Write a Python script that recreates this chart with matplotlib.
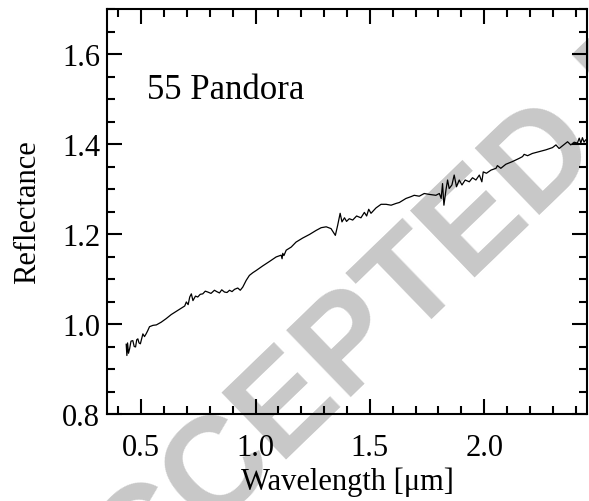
import matplotlib
matplotlib.use("Agg")
import matplotlib.pyplot as plt
from matplotlib.ticker import MultipleLocator

plt.rcParams['font.family'] = ['Liberation Serif', 'DejaVu Serif']

# Spectrum of 55 Pandora
wavelength = [0.434, 0.437, 0.440, 0.444, 0.449, 0.455, 0.463, 0.469, 0.475, 0.480, 0.485,
              0.490, 0.496, 0.507, 0.514, 0.521, 0.528, 0.536, 0.551, 0.566, 0.587,
              0.609, 0.631, 0.653, 0.675, 0.690, 0.697, 0.705, 0.712, 0.719, 0.726,
              0.737, 0.747, 0.758, 0.769, 0.780, 0.791, 0.805, 0.820, 0.830, 0.842,
              0.852, 0.864, 0.875, 0.886, 0.897, 0.908, 0.922, 0.933, 0.944, 0.959,
              0.973, 0.988, 1.003, 1.031, 1.061, 1.090, 1.112, 1.116, 1.119, 1.124,
              1.134, 1.156, 1.177, 1.206, 1.236, 1.265, 1.287, 1.309, 1.330, 1.349,
              1.359, 1.370, 1.378, 1.389, 1.398, 1.410, 1.425, 1.442, 1.461, 1.476,
              1.486, 1.495, 1.505, 1.527, 1.549, 1.571, 1.593, 1.615, 1.629, 1.658,
              1.680, 1.694, 1.716, 1.738, 1.760, 1.789, 1.804, 1.812, 1.818, 1.824,
              1.833, 1.840, 1.847, 1.859, 1.869, 1.879, 1.891, 1.903, 1.917, 1.935,
              1.949, 1.964, 1.979, 1.990, 1.996, 2.010, 2.030, 2.052, 2.058, 2.073,
              2.095, 2.124, 2.153, 2.168, 2.175, 2.190, 2.211, 2.241, 2.270, 2.299,
              2.314, 2.328, 2.350, 2.365, 2.379, 2.394, 2.408, 2.416, 2.423, 2.430,
              2.437, 2.444]
reflectance = [0.955, 0.930, 0.958, 0.935, 0.945, 0.962, 0.963, 0.950, 0.949, 0.965, 0.967,
               0.958, 0.956, 0.978, 0.972, 0.978, 0.985, 0.994, 0.997, 0.998, 1.004,
               1.012, 1.021, 1.028, 1.035, 1.040, 1.049, 1.043, 1.060, 1.067, 1.052,
               1.062, 1.060, 1.066, 1.067, 1.073, 1.071, 1.068, 1.075, 1.072, 1.069,
               1.076, 1.071, 1.070, 1.075, 1.072, 1.077, 1.080, 1.075, 1.082, 1.097,
               1.108, 1.114, 1.119, 1.129, 1.139, 1.149, 1.153, 1.145, 1.157, 1.152,
               1.164, 1.171, 1.182, 1.191, 1.199, 1.208, 1.214, 1.216, 1.212, 1.197,
               1.219, 1.246, 1.227, 1.236, 1.228, 1.234, 1.231, 1.240, 1.236, 1.248,
               1.240, 1.255, 1.246, 1.258, 1.266, 1.266, 1.264, 1.268, 1.270, 1.279,
               1.283, 1.286, 1.284, 1.290, 1.288, 1.286, 1.290, 1.279, 1.312, 1.264,
               1.298, 1.320, 1.301, 1.309, 1.331, 1.305, 1.320, 1.309, 1.320, 1.316,
               1.325, 1.320, 1.331, 1.316, 1.338, 1.335, 1.342, 1.346, 1.352, 1.346,
               1.355, 1.361, 1.368, 1.372, 1.377, 1.374, 1.379, 1.383, 1.387, 1.392,
               1.398, 1.390, 1.399, 1.405, 1.398, 1.404, 1.402, 1.413, 1.402, 1.414,
               1.404, 1.409]

x_ticks = [0.5, 1.0, 1.5, 2.0]
x_tick_labels = ["0.5", "1.0", "1.5", "2.0"]
y_ticks = [0.8, 1.0, 1.2, 1.4, 1.6]
y_tick_labels = ["0.8", "1.0", "1.2", "1.4", "1.6"]

fig = plt.figure(figsize=(5.89, 5.02), dpi=100)
ax = fig.add_axes([107/589, 1 - 415/502, 480/589, 405/502])
ax.set_facecolor('none')

# watermark
fig.text(70/589, 1 - 668/502, "ACCEPTED MANUSCRIPT", rotation=44, rotation_mode='anchor',
         ha='left', va='baseline', fontsize=97, fontweight='bold', color='#c8c8c8',
         family='Liberation Sans', zorder=-1)

ax.plot(wavelength, reflectance, color='black', lw=0.9)

ax.set_xlim(0.35, 2.45)
ax.set_ylim(0.8, 1.70)
ax.set_xticks(x_ticks)
ax.set_xticklabels(x_tick_labels)
ax.set_yticks(y_ticks)
ax.set_yticklabels(y_tick_labels)
ax.xaxis.set_minor_locator(MultipleLocator(0.1))
ax.yaxis.set_minor_locator(MultipleLocator(0.05))

ax.tick_params(which='both', direction='in', top=True, right=True, width=1.5, labelsize=22)
ax.tick_params(which='major', length=11)
ax.tick_params(which='minor', length=5.5)
ax.tick_params(axis='x', which='major', pad=14)
ax.tick_params(axis='y', which='major', pad=5)
for s in ax.spines.values():
    s.set_linewidth(1.5)

ax.set_xlabel("Wavelength [μm]", fontsize=22, labelpad=3)
ax.set_ylabel("Reflectance", fontsize=22, labelpad=14)

ax.text(0.523, 1.502, "55 Pandora", fontsize=25, ha='left', va='baseline')

fig.savefig("out.png", dpi=100)
